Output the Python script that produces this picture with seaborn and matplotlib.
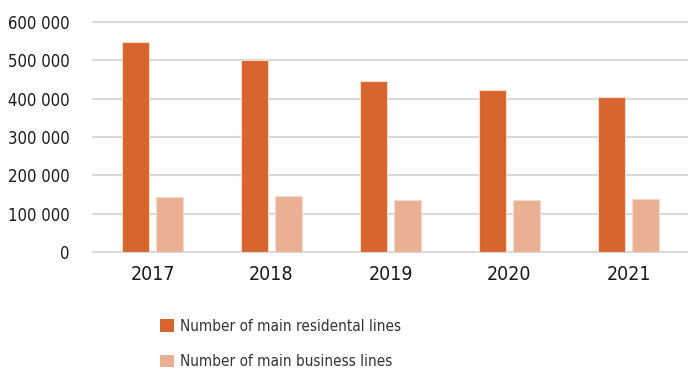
import pandas as pd
import seaborn as sns
import matplotlib.pyplot as plt
from matplotlib.ticker import FuncFormatter
from matplotlib.patches import Patch

# values
years = ['2017', '2018', '2019', '2020', '2021']
residential = [548000, 502000, 445000, 423000, 405000]
business = [143000, 146000, 136000, 136000, 139000]
series_names = ['Number of main residental lines', 'Number of main business lines']
colors = ['#D9652E', '#EBB093']

df = pd.DataFrame({
    'Year': years * 2,
    'Lines': residential + business,
    'Series': [series_names[0]] * len(years) + [series_names[1]] * len(years),
})

sns.set_style('white')
plt.rcParams['font.family'] = ['DejaVu Sans']
plt.rcParams['font.stretch'] = 'condensed'

fig = plt.figure(figsize=(6.88, 3.72), dpi=100)
ax = fig.add_axes([93 / 688, 1 - 252 / 372, 1 - 93 / 688, 230 / 372])

sns.barplot(data=df, x='Year', y='Lines', hue='Series', palette=colors,
            saturation=1, width=0.567, gap=0.2, edgecolor='#F5D9CC', linewidth=0.8,
            legend=False, ax=ax)

ax.set_ylim(0, 600000)
ax.set_xlim(-0.5, 4.5)
ax.set_yticks(range(0, 600001, 100000))
ax.yaxis.set_major_formatter(FuncFormatter(lambda v, p: f'{int(v):,}'.replace(',', ' ')))
ax.grid(axis='y', color='#D9D9D9', linewidth=1.5)
for line in ax.get_ygridlines():
    line.set_clip_on(False)
ax.set_axisbelow(True)
for s in ax.spines.values():
    s.set_visible(False)
ax.tick_params(axis='y', length=0, pad=17, labelsize=12, labelcolor='#1a1a1a')
ax.tick_params(axis='x', length=0, pad=9, labelsize=14, labelcolor='#1a1a1a')
ax.set_xlabel('')
ax.set_ylabel('')

handles = [Patch(facecolor=c, edgecolor='none') for c in colors]
fig.legend(handles, series_names, loc='upper left', bbox_to_anchor=(146 / 688, 1 - 305 / 372),
           frameon=False, fontsize=11, handlelength=0.9, handleheight=0.9,
           handletextpad=0.4, labelspacing=1.35, labelcolor='#333333')

fig.savefig('out.png', dpi=100)
